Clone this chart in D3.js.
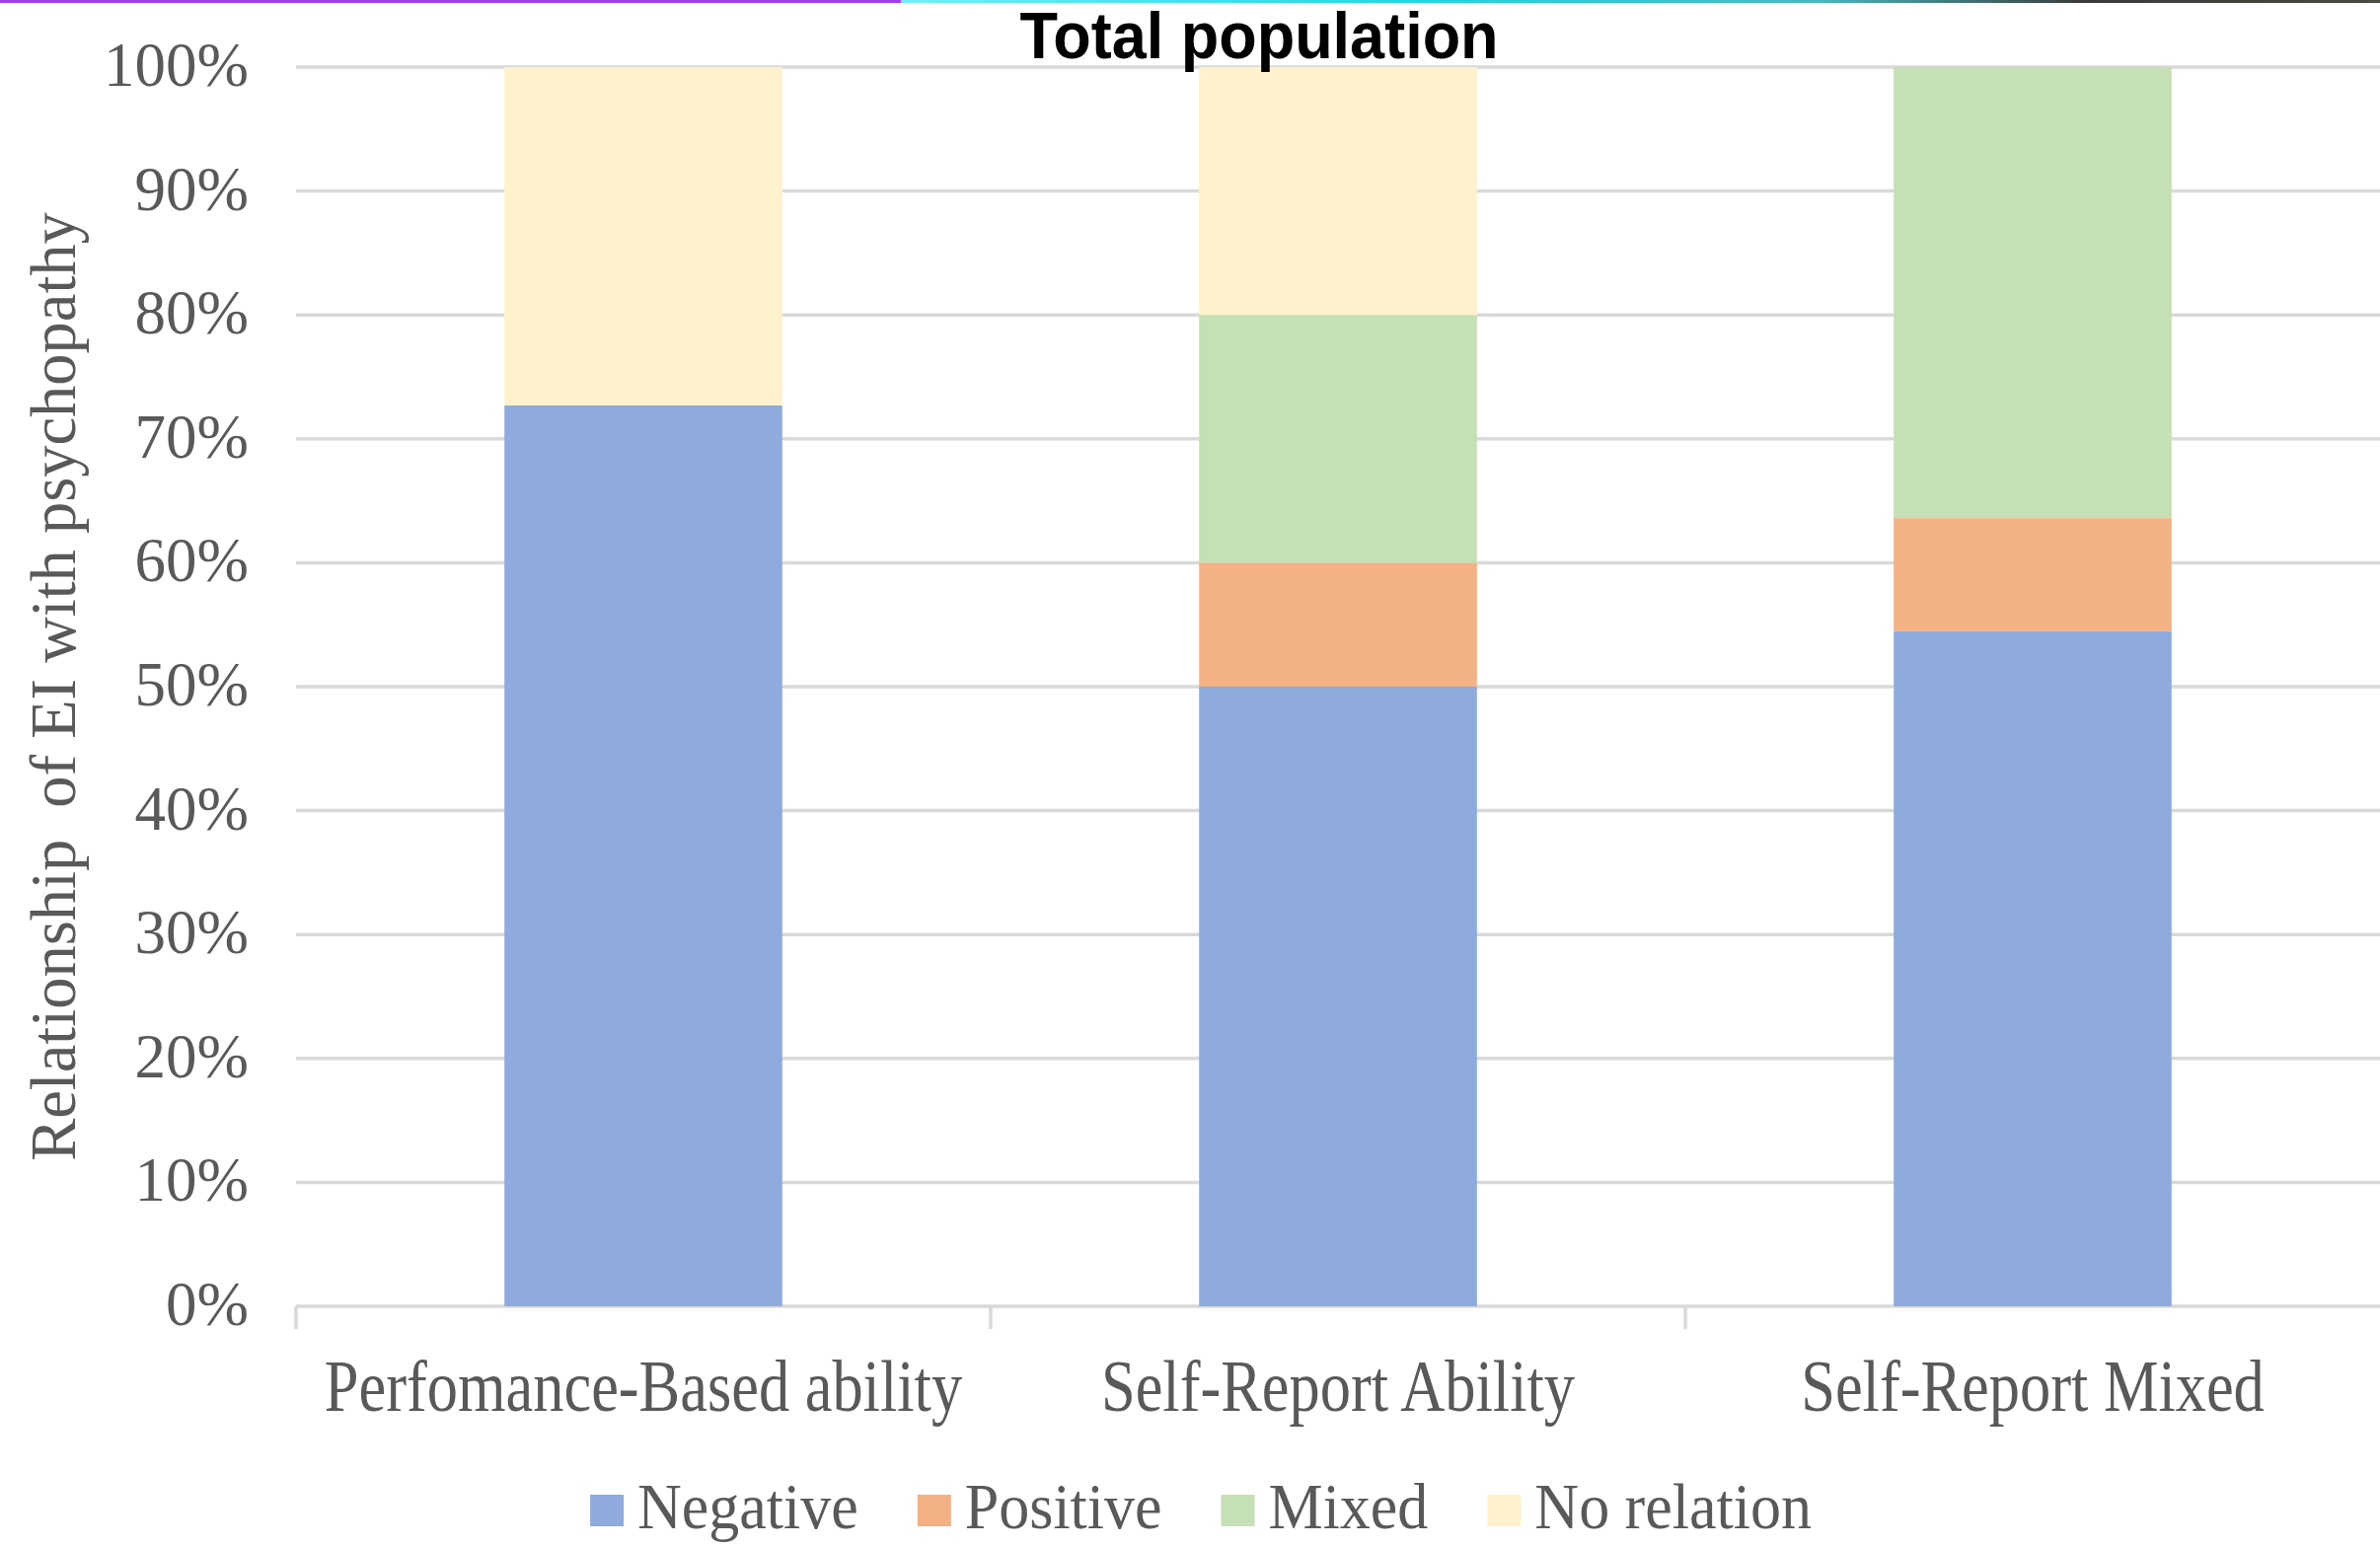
<!DOCTYPE html>
<html>
<head>
<meta charset="utf-8">
<script src="https://cdn.jsdelivr.net/npm/d3@7"></script>
<style>
  html, body { margin: 0; padding: 0; background: #ffffff; }
  svg { display: block; }
</style>
</head>
<body>
<svg id="chart" width="2412" height="1568"></svg>
<script>
// Share of studies (%) by type of EI measure and direction of the relationship
const categories = ["Perfomance-Based ability", "Self-Report Ability", "Self-Report Mixed"];
const seriesNames = ["Negative", "Positive", "Mixed", "No relation"];
const negative   = [72.7, 50.0, 54.5];
const positive   = [0.0, 10.0, 9.1];
const mixed      = [0.0, 20.0, 36.4];
const noRelation = [27.3, 20.0, 0.0];
const yTicks = [0, 10, 20, 30, 40, 50, 60, 70, 80, 90, 100];

const colors = ["#8FAADC", "#F4B183", "#C5E0B4", "#FFF2CC"];
const textColor = "#595959";
const gridColor = "#D9D9D9";
const serif = "'Liberation Serif', 'Times New Roman', serif";
const sans = "'Liberation Sans', Arial, sans-serif";

const W = 2412, H = 1568;
const margin = { left: 300, right: 0, top: 68, bottom: H - 1324 };

const svg = d3.select("#chart");

// thin decorative strip along the top edge
const defs = svg.append("defs");
const grad = defs.append("linearGradient").attr("id", "stripGrad")
  .attr("x1", "0%").attr("x2", "100%");
[["0%", "#6FF0F6"], ["35%", "#20D6E2"], ["62%", "#48B8C0"], ["80%", "#3A3A3A"], ["100%", "#4A4A40"]]
  .forEach(([o, c]) => grad.append("stop").attr("offset", o).attr("stop-color", c));
svg.append("rect").attr("x", 0).attr("y", 0).attr("width", 913).attr("height", 3).attr("fill", "#A03CF8");
svg.append("rect").attr("x", 913).attr("y", 0).attr("width", W - 913).attr("height", 3).attr("fill", "url(#stripGrad)");

const rows = categories.map((c, i) => ({
  category: c,
  "Negative": negative[i],
  "Positive": positive[i],
  "Mixed": mixed[i],
  "No relation": noRelation[i]
}));
const stacked = d3.stack().keys(seriesNames)(rows);

const x = d3.scaleBand()
  .domain(categories)
  .range([margin.left, W - margin.right])
  .paddingInner(0.6)
  .paddingOuter(0.3);
const xEdges = d3.scaleBand().domain(categories).range([margin.left, W - margin.right]).padding(0);

const y = d3.scaleLinear().domain([0, 100]).range([H - margin.bottom, margin.top]);

// horizontal gridlines
svg.append("g")
  .selectAll("line")
  .data(yTicks.filter(t => t > 0))
  .join("line")
  .attr("x1", margin.left).attr("x2", W - margin.right)
  .attr("y1", d => y(d)).attr("y2", d => y(d))
  .attr("stroke", gridColor).attr("stroke-width", 3.5);

// category axis with ticks on band boundaries
const xAxis = svg.append("g");
xAxis.append("line")
  .attr("x1", margin.left).attr("x2", W - margin.right)
  .attr("y1", y(0)).attr("y2", y(0))
  .attr("stroke", gridColor).attr("stroke-width", 3.5);
xAxis.selectAll("line.tick")
  .data(categories)
  .join("line")
  .attr("class", "tick")
  .attr("x1", d => xEdges(d)).attr("x2", d => xEdges(d))
  .attr("y1", y(0)).attr("y2", y(0) + 23)
  .attr("stroke", gridColor).attr("stroke-width", 3.5);

// stacked bars
svg.append("g")
  .selectAll("g")
  .data(stacked)
  .join("g")
  .attr("fill", (d, i) => colors[i])
  .selectAll("rect")
  .data(d => d.map(v => ({ v, cat: v.data.category })))
  .join("rect")
  .attr("x", d => x(d.cat))
  .attr("width", x.bandwidth())
  .attr("y", d => y(d.v[1]))
  .attr("height", d => y(d.v[0]) - y(d.v[1]));

// y tick labels
svg.append("g")
  .selectAll("text")
  .data(yTicks)
  .join("text")
  .attr("x", 252)
  .attr("y", d => y(d) + 19)
  .attr("text-anchor", "end")
  .attr("font-family", serif)
  .attr("font-size", 63)
  .attr("fill", textColor)
  .text(d => d + "%");

// category labels
svg.append("g")
  .selectAll("text")
  .data(categories)
  .join("text")
  .attr("transform", d => `translate(${x(d) + x.bandwidth() / 2},1430) scale(1,1.17)`)
  .attr("text-anchor", "middle")
  .attr("font-family", serif)
  .attr("font-size", 62.4)
  .attr("fill", textColor)
  .text(d => d);

// y axis title
svg.append("text")
  .attr("transform", "translate(76,696) rotate(-90) scale(1,1.02)")
  .attr("text-anchor", "middle")
  .attr("font-family", serif)
  .attr("font-size", 64.5)
  .attr("fill", textColor)
  .attr("xml:space", "preserve")
  .text("Relationship  of EI with psychopathy");

// chart title
svg.append("text")
  .attr("transform", "translate(1276,59) scale(1,1.06)")
  .attr("text-anchor", "middle")
  .attr("font-family", sans)
  .attr("font-weight", "bold")
  .attr("font-size", 63)
  .attr("fill", "#000000")
  .text("Total population");

// legend, laid out from measured label widths and centred
const legend = svg.append("g");
const items = legend.selectAll("g")
  .data(seriesNames)
  .join("g");
items.append("rect")
  .attr("y", 1515).attr("width", 34).attr("height", 32)
  .attr("fill", (d, i) => colors[i]);
items.append("text")
  .attr("transform", "translate(48,1549) scale(1,1.05)")
  .attr("font-family", serif)
  .attr("font-size", 62)
  .attr("fill", textColor)
  .text(d => d);
let cursor = 0;
const offsets = [];
items.each(function () {
  offsets.push(cursor);
  const w = d3.select(this).select("text").node().getComputedTextLength();
  cursor += 48 + w + 60;
});
const total = cursor - 60;
const start = 1217 - total / 2;
items.attr("transform", (d, i) => `translate(${start + offsets[i]},0)`);
</script>
</body>
</html>
